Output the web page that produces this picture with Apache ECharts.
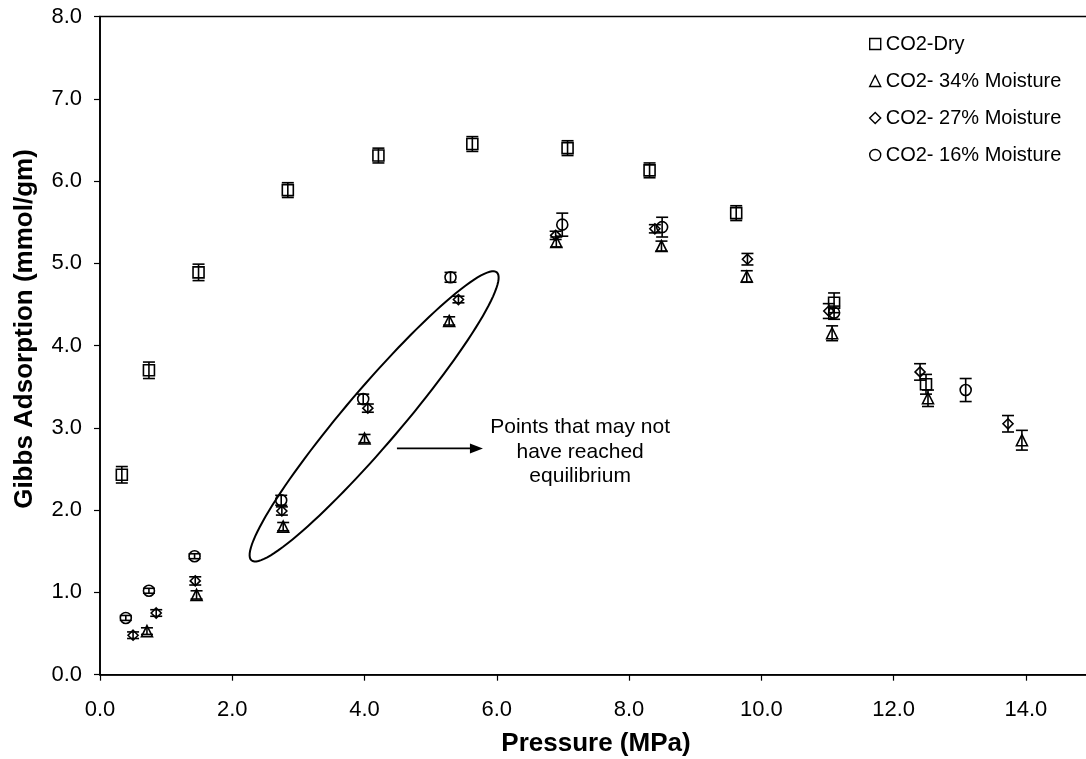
<!DOCTYPE html>
<html>
<head>
<meta charset="utf-8">
<script src="https://cdn.jsdelivr.net/npm/echarts@6/dist/echarts.min.js"></script>
<style>
  html, body { margin: 0; padding: 0; background: #fff; }
  #chart { width: 1086px; height: 759px; }
</style>
</head>
<body>
<div id="chart"></div>
<script>
// Gibbs adsorption of CO2 (mmol/gm) against pressure (MPa), with +/- error
const dryP   = [0.33, 0.74, 1.49, 2.84, 4.21, 5.63, 7.07, 8.31, 9.62, 11.10, 12.49];
const dryA   = [2.43, 3.70, 4.89, 5.89, 6.31, 6.45, 6.40, 6.13, 5.61, 4.52, 3.53];
const dryErr = [0.10, 0.10, 0.10, 0.09, 0.09, 0.09, 0.09, 0.09, 0.09, 0.12, 0.12];

const m34P   = [0.71, 1.46, 2.77, 4.00, 5.28, 6.90, 8.49, 9.78, 11.07, 12.52, 13.94];
const m34A   = [0.53, 0.97, 1.80, 2.87, 4.30, 5.26, 5.21, 4.84, 4.15, 3.36, 2.85];
const m34Err = [0.04, 0.05, 0.05, 0.05, 0.05, 0.06, 0.06, 0.07, 0.09, 0.10, 0.12];

const m27P   = [0.50, 0.85, 1.44, 2.75, 4.05, 5.42, 6.89, 8.39, 9.79, 11.02, 12.40, 13.73];
const m27A   = [0.48, 0.75, 1.14, 1.99, 3.24, 4.56, 5.34, 5.42, 5.05, 4.42, 3.68, 3.05];
const m27Err = [0.04, 0.04, 0.05, 0.05, 0.05, 0.04, 0.05, 0.05, 0.07, 0.09, 0.10, 0.10];

const m16P   = [0.39, 0.74, 1.43, 2.74, 3.98, 5.30, 6.99, 8.50, 11.10, 13.09];
const m16A   = [0.69, 1.02, 1.44, 2.12, 3.35, 4.83, 5.47, 5.44, 4.40, 3.46];
const m16Err = [0.03, 0.03, 0.03, 0.06, 0.06, 0.06, 0.14, 0.12, 0.08, 0.14];

const seriesNames = ['CO2-Dry', 'CO2- 34% Moisture', 'CO2- 27% Moisture', 'CO2- 16% Moisture'];

// Ellipse around the suspect points, plus arrow and note (data coordinates)
const ringTips = [[2.29, 1.39], [6.00, 4.89]];
const arrowFrom = [4.49, 2.75];
const arrowTo = [5.79, 2.75];
const noteAt = [7.26, 2.71];
const noteLines = ['Points that may not', 'have reached', 'equilibrium'];

const FONT = '"Liberation Sans", Arial, Helvetica, sans-serif';
const INK = '#000';

function pairs(xs, ys) { return xs.map((x, i) => [x, ys[i]]); }

function markerSeries(name, xs, ys, symbol, size) {
  return {
    type: 'scatter',
    name: name,
    data: pairs(xs, ys),
    symbol: symbol,
    symbolSize: size,
    z: 3,
    itemStyle: { color: 'rgba(0,0,0,0)', borderColor: INK, borderWidth: 1.6, opacity: 1 },
    emphasis: { disabled: true }
  };
}

function errorSeries(xs, ys, es) {
  return {
    type: 'custom',
    silent: true,
    z: 2,
    data: xs.map((x, i) => [x, ys[i] - es[i], ys[i] + es[i]]),
    encode: { x: 0, y: [1, 2] },
    renderItem: function (params, api) {
      const lo = api.coord([api.value(0), api.value(1)]);
      const hi = api.coord([api.value(0), api.value(2)]);
      const w = 6;
      const st = { stroke: INK, lineWidth: 1.6 };
      return {
        type: 'group',
        children: [
          { type: 'line', shape: { x1: lo[0], y1: lo[1], x2: hi[0], y2: hi[1] }, style: st },
          { type: 'line', shape: { x1: lo[0] - w, y1: lo[1], x2: lo[0] + w, y2: lo[1] }, style: st },
          { type: 'line', shape: { x1: hi[0] - w, y1: hi[1], x2: hi[0] + w, y2: hi[1] }, style: st }
        ]
      };
    }
  };
}

const noteSeries = {
  type: 'custom',
  silent: true,
  z: 4,
  clip: false,
  data: [[noteAt[0], noteAt[1]]],
  encode: { x: 0, y: 1 },
  renderItem: function (params, api) {
    const p0 = api.coord(ringTips[0]);
    const p1 = api.coord(ringTips[1]);
    const cx = (p0[0] + p1[0]) / 2, cy = (p0[1] + p1[1]) / 2;
    const dx = p1[0] - p0[0], dy = p1[1] - p0[1];
    const a = Math.sqrt(dx * dx + dy * dy) / 2;
    const ux = dx / (2 * a), uy = dy / (2 * a);
    const vx = -uy, vy = ux;
    const b = 28;
    const pts = [];
    for (let k = 0; k < 120; k++) {
      const t = (k / 120) * Math.PI * 2;
      const ca = a * Math.cos(t), sb = b * Math.sin(t);
      pts.push([cx + ca * ux + sb * vx, cy + ca * uy + sb * vy]);
    }
    const af = api.coord(arrowFrom);
    const at = api.coord(arrowTo);
    const tp = api.coord(noteAt);
    return {
      type: 'group',
      children: [
        { type: 'polygon', shape: { points: pts }, style: { fill: 'none', stroke: INK, lineWidth: 2 } },
        { type: 'line', shape: { x1: af[0], y1: af[1], x2: at[0] - 10, y2: at[1] }, style: { stroke: INK, lineWidth: 1.8 } },
        { type: 'polygon', shape: { points: [[at[0], at[1]], [at[0] - 13, at[1] - 5], [at[0] - 13, at[1] + 5]] }, style: { fill: INK } },
        {
          type: 'text',
          x: tp[0], y: tp[1],
          style: {
            text: noteLines.join('\n'),
            align: 'center', verticalAlign: 'middle',
            fontFamily: FONT, fontSize: 21, lineHeight: 24.5, fill: INK
          }
        }
      ]
    };
  }
};

const chart = echarts.init(document.getElementById('chart'), null, { renderer: 'canvas' });

chart.setOption({
  animation: false,
  backgroundColor: '#fff',
  textStyle: { fontFamily: FONT, color: INK },
  grid: {
    left: 100, right: -6, top: 16.5, bottom: 84.3,
    show: true, borderColor: INK, borderWidth: 1.6, backgroundColor: 'rgba(0,0,0,0)',
    containLabel: false, outerBoundsMode: 'none'
  },
  graphic: [
    {
      type: 'text',
      x: 25, y: 329,
      rotation: Math.PI / 2,
      silent: true,
      style: {
        text: 'Gibbs Adsorption (mmol/gm)',
        align: 'center', verticalAlign: 'middle',
        fontFamily: FONT, fontSize: 26, fontWeight: 'bold', fill: INK
      }
    }
  ],
  legend: {
    orient: 'vertical',
    left: 864, top: 29,
    itemWidth: 11, itemHeight: 11, itemGap: 17,
    selectedMode: false,
    textStyle: { fontFamily: FONT, fontSize: 20, color: INK },
    itemStyle: { color: 'rgba(0,0,0,0)', borderColor: INK, borderWidth: 1.4 },
    data: [
      { name: seriesNames[0], icon: 'rect' },
      { name: seriesNames[1], icon: 'triangle' },
      { name: seriesNames[2], icon: 'diamond' },
      { name: seriesNames[3], icon: 'circle' }
    ]
  },
  xAxis: {
    type: 'value', min: 0, max: 15, interval: 2,
    name: 'Pressure (MPa)', nameLocation: 'middle', nameGap: 56,
    nameTextStyle: { fontFamily: FONT, fontSize: 26, fontWeight: 'bold', color: INK },
    axisLine: { show: true, onZero: false, lineStyle: { color: INK, width: 1.6 } },
    axisTick: { show: true, inside: false, length: 6, lineStyle: { color: INK, width: 1.2 } },
    axisLabel: { margin: 24, fontFamily: FONT, fontSize: 22, color: INK, showMaxLabel: false,
                 formatter: v => v.toFixed(1) },
    splitLine: { show: false }
  },
  yAxis: {
    type: 'value', min: 0, max: 8, interval: 1,
    axisLine: { show: true, onZero: false, lineStyle: { color: INK, width: 1.6 } },
    axisTick: { show: true, inside: false, length: 6, lineStyle: { color: INK, width: 1.2 } },
    axisLabel: { margin: 18, fontFamily: FONT, fontSize: 22, color: INK, formatter: v => v.toFixed(1) },
    splitLine: { show: false }
  },
  series: [
    errorSeries(dryP, dryA, dryErr),
    errorSeries(m34P, m34A, m34Err),
    errorSeries(m27P, m27A, m27Err),
    errorSeries(m16P, m16A, m16Err),
    markerSeries(seriesNames[0], dryP, dryA, 'rect', 11),
    markerSeries(seriesNames[1], m34P, m34A, 'triangle', 11),
    markerSeries(seriesNames[2], m27P, m27A, 'diamond', 10),
    markerSeries(seriesNames[3], m16P, m16A, 'circle', 11),
    noteSeries
  ]
});
</script>
</body>
</html>
